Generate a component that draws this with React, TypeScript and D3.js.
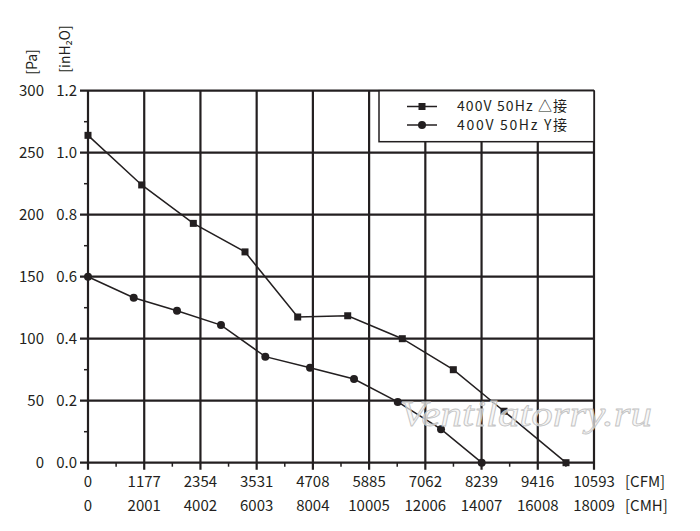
import React from "react";
import * as d3 from "d3";

// flow ticks (two unit rows) and pressure ticks
const cfmTicks = [0, 1177, 2354, 3531, 4708, 5885, 7062, 8239, 9416, 10593];
const cmhTicks = [0, 2001, 4002, 6003, 8004, 10005, 12006, 14007, 16008, 18009];
const paTicks = [0, 50, 100, 150, 200, 250, 300];
const inchTicks = ["0.0", "0.2", "0.4", "0.6", "0.8", "1.0", "1.2"];

// 400V 50Hz delta connection (CFM, Pa)
const deltaFlow = [0, 1124, 2205, 3287, 4390, 5437, 6580, 7648, 8709, 10007];
const deltaPressure = [264, 224, 193, 170, 117.5, 118.5, 100, 75, 41.5, 0];

// 400V 50Hz star connection (CFM, Pa)
const starFlow = [0, 957, 1863, 2784, 3712, 4648, 5569, 6484, 7390, 8242];
const starPressure = [150, 133, 122.5, 111, 85.5, 76.5, 67.5, 49, 27, 0];

const legendLabels = ["400V 50Hz △接", "400V 50Hz  Y接"];

const W = 700;
const H = 531;
const ink = "#231f20";
const font = "'Noto Sans CJK SC', 'Noto Sans', sans-serif";

const App: React.FC = () => {
  const x = d3.scaleLinear().domain([0, 10593]).range([88, 594]);
  const y = d3.scaleLinear().domain([0, 300]).range([462.7, 90.7]);
  const [x0, x1] = x.range();
  const [y0, y1] = y.range();

  const line = d3
    .line<[number, number]>()
    .x((d) => x(d[0]))
    .y((d) => y(d[1]));

  const delta = deltaFlow.map((f, i) => [f, deltaPressure[i]] as [number, number]);
  const star = starFlow.map((f, i) => [f, starPressure[i]] as [number, number]);

  // half steps for the minor ticks
  const minorX = cfmTicks.slice(1).map((t, i) => (t + cfmTicks[i]) / 2);
  const minorY = paTicks.slice(1).map((t, i) => (t + paTicks[i]) / 2);

  // legend rows
  const rowY = [106.5, 125];

  return (
    <svg
      width={W}
      height={H}
      style={{ position: "absolute", left: 0, top: 0, background: "#fff" }}
      fontFamily={font}
    >
      {/* grid */}
      <g stroke={ink} strokeWidth={2.2}>
        {cfmTicks.map((t) => (
          <line key={"gx" + t} x1={x(t)} x2={x(t)} y1={y1} y2={y0 + 7} />
        ))}
        {paTicks.map((t) => (
          <line key={"gy" + t} x1={x0 - 8} x2={x1} y1={y(t)} y2={y(t)} />
        ))}
        {minorX.map((t) => (
          <line key={"mx" + t} x1={x(t)} x2={x(t)} y1={y0} y2={y0 + 4} strokeWidth={1.5} />
        ))}
        {minorY.map((t) => (
          <line key={"my" + t} x1={x0 - 4} x2={x0} y1={y(t)} y2={y(t)} strokeWidth={1.5} />
        ))}
      </g>

      {/* y labels */}
      <g fontSize={15} fill={ink} textAnchor="end">
        {paTicks.map((t, i) => (
          <g key={"yl" + t}>
            <text x={44} y={y(t)} dy="0.35em">
              {t}
            </text>
            <text x={77} y={y(t)} dy="0.35em">
              {inchTicks[i]}
            </text>
          </g>
        ))}
      </g>
      <g fontSize={14} fill={ink} textAnchor="middle">
        <text transform="translate(32,62) rotate(-90)" dy="0.35em">
          [Pa]
        </text>
        <text transform="translate(65,49) rotate(-90)" dy="0.35em">
          [inH₂O]
        </text>
      </g>

      {/* x labels */}
      <g fontSize={15} fill={ink} textAnchor="middle">
        {cfmTicks.map((t, i) => (
          <g key={"xl" + t}>
            <text x={x(t)} y={487}>
              {t}
            </text>
            <text x={x(t)} y={510.5}>
              {cmhTicks[i]}
            </text>
          </g>
        ))}
        <text x={625} y={487} textAnchor="start">
          [CFM]
        </text>
        <text x={625} y={510.5} textAnchor="start">
          [CMH]
        </text>
      </g>

      {/* curves */}
      <path d={line(delta) ?? ""} fill="none" stroke={ink} strokeWidth={1.5} />
      <path d={line(star) ?? ""} fill="none" stroke={ink} strokeWidth={1.5} />
      <g fill={ink}>
        {delta.map((d, i) => (
          <rect key={"d" + i} x={x(d[0]) - 3.5} y={y(d[1]) - 3.5} width={7} height={7} />
        ))}
        {star.map((d, i) => (
          <circle key={"s" + i} cx={x(d[0])} cy={y(d[1])} r={4} />
        ))}
      </g>

      {/* legend */}
      <rect x={379} y={y1} width={x1 - 379} height={51} fill="#fff" stroke={ink} strokeWidth={1.5} />
      <g stroke={ink} strokeWidth={1.5}>
        {rowY.map((r) => (
          <line key={r} x1={407} x2={437} y1={r} y2={r} />
        ))}
      </g>
      <rect x={418.5} y={rowY[0] - 3.5} width={7} height={7} fill={ink} />
      <circle cx={422} cy={rowY[1]} r={4} fill={ink} />
      <g fontSize={14} fill={ink} style={{ whiteSpace: "pre" }}>
        {legendLabels.map((l, i) => (
          <text key={l} x={457} y={rowY[i]} dy="0.35em" textLength={110} lengthAdjust="spacing">
            {l}
          </text>
        ))}
      </g>

      {/* watermark */}
      <text
        x={400}
        y={426}
        fontSize={36}
        fontStyle="italic"
        fontFamily="'Liberation Serif', serif"
        fill="#f4f4f4"
        fillOpacity={0.7}
        stroke="#c4c4c4"
        strokeWidth={0.8}
        textLength={252}
        lengthAdjust="spacingAndGlyphs"
      >
        Ventilatorry.ru
      </text>
    </svg>
  );
};

export default App;
